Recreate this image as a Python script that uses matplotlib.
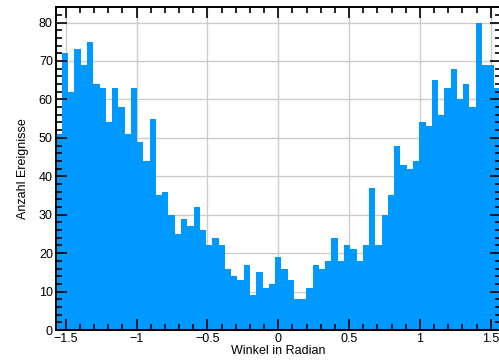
import numpy as np
import matplotlib.pyplot as plt
from matplotlib.ticker import MultipleLocator, FuncFormatter

plt.rcParams['font.family'] = ['Liberation Sans', 'DejaVu Sans']

# counts per bin, 71 bins from -pi/2 to pi/2
counts = [51, 72, 62, 73, 69, 75, 64, 63, 54, 63,
          58, 51, 63, 49, 44, 55, 35, 36, 30, 25,
          29, 27, 32, 26, 22, 24, 22, 16, 14, 13,
          17, 9, 15, 11, 12, 19, 16, 13, 8, 8,
          11, 17, 16, 18, 24, 18, 22, 21, 18, 22,
          37, 22, 30, 35, 48, 43, 42, 44, 54, 53,
          65, 56, 63, 68, 60, 64, 58, 80, 69, 69,
          63]
edges = np.linspace(-np.pi/2, np.pi/2, len(counts) + 1)
xgrid = [-1.5, -1, -0.5, 0, 0.5, 1, 1.5]
ygrid = [10, 20, 30, 40, 50, 60, 70, 80]

fig = plt.figure(figsize=(4.99, 3.64), dpi=100)
ax = fig.add_axes([0.1115, 0.0934, 0.892, 0.887])

# grid drawn by hand so it sits behind the bars while ticks stay on top
for gx in xgrid:
    ax.axvline(gx, color='#cccccc', linewidth=1, zorder=0.5)
for gy in ygrid:
    ax.axhline(gy, color='#cccccc', linewidth=1, zorder=0.5)

ax.stairs(counts, edges, fill=True, color='#0099ff', zorder=1)

ax.set_xlim(-np.pi/2, np.pi/2)
ax.set_ylim(0, 84)
ax.xaxis.set_major_locator(MultipleLocator(0.5))
ax.xaxis.set_minor_locator(MultipleLocator(0.1))
ax.yaxis.set_major_locator(MultipleLocator(10))
ax.yaxis.set_minor_locator(MultipleLocator(2))
ax.xaxis.set_major_formatter(FuncFormatter(lambda v, p: f'{v:g}'.replace('-', '\u2212')))
ax.tick_params(which='both', direction='in', top=True, right=True, labelsize=9, pad=2)
ax.tick_params(which='major', length=8, width=1.2)
ax.tick_params(which='minor', length=4, width=1.2)
for s in ax.spines.values():
    s.set_linewidth(1.4)

ax.set_xlabel('Winkel in Radian', fontsize=9, labelpad=0)
ax.set_ylabel('Anzahl Ereignisse', fontsize=9, labelpad=7)

fig.savefig('out.png', dpi=100)
